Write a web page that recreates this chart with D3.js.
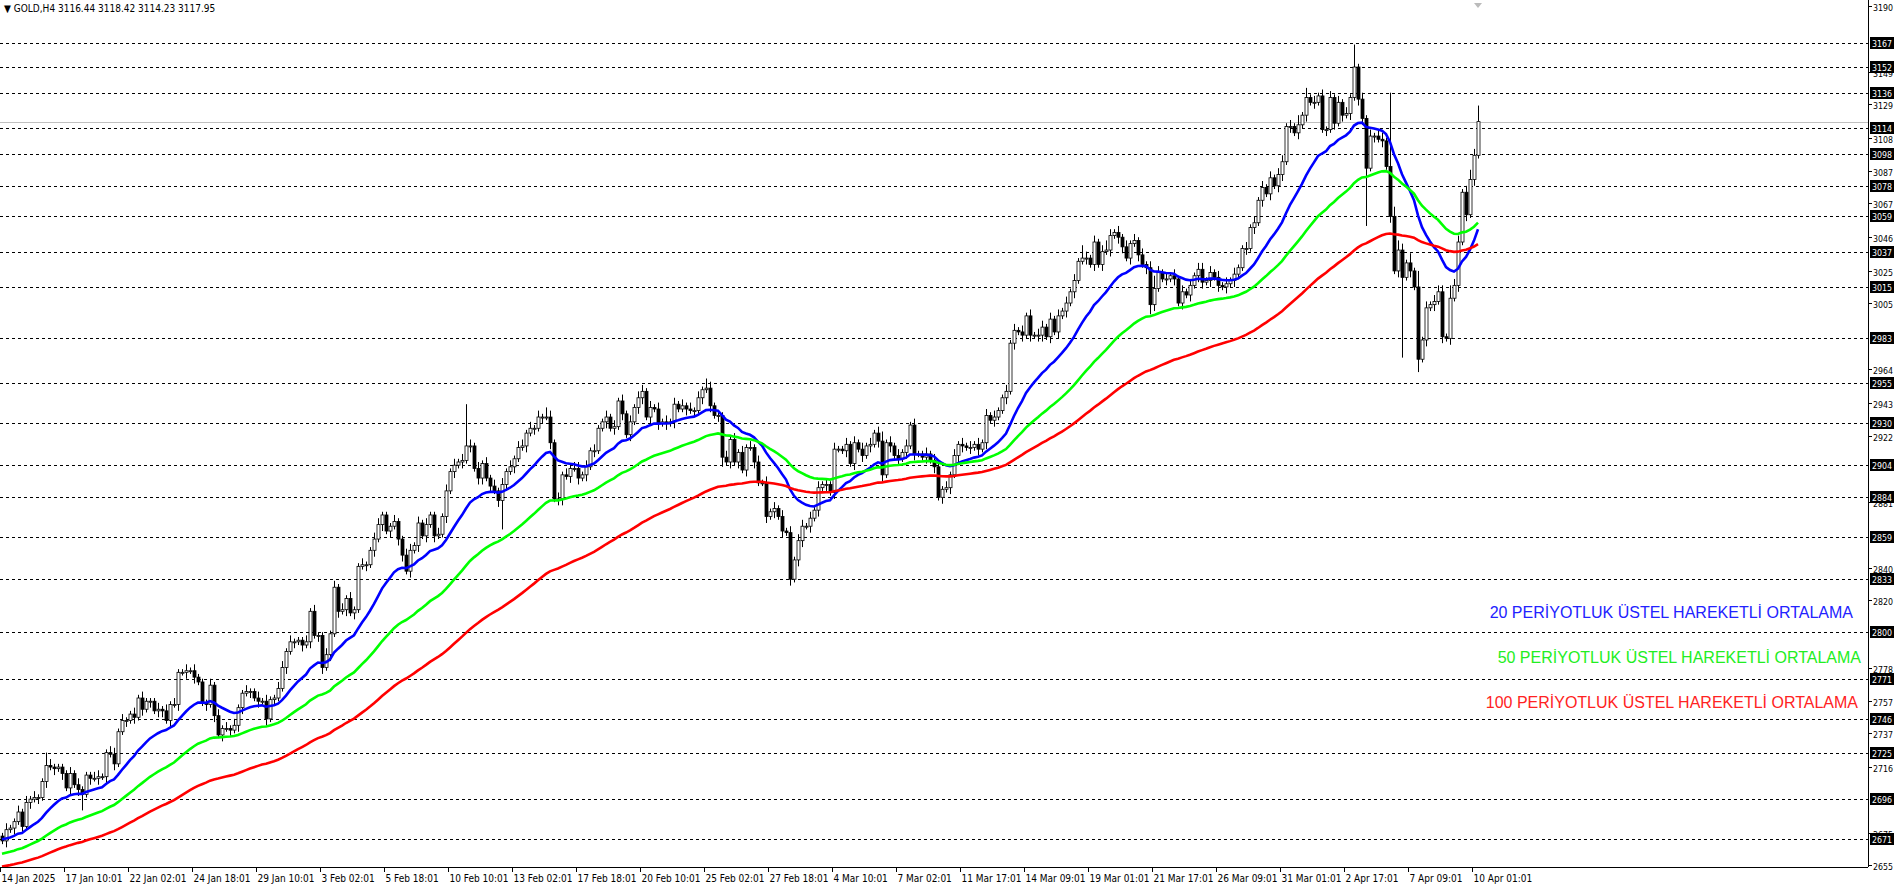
<!DOCTYPE html>
<html><head><meta charset="utf-8">
<script src="https://cdn.jsdelivr.net/npm/d3@7"></script>
<style>body{margin:0;background:#fff}svg{display:block}</style>
</head><body><svg id="ch" width="1894" height="885"></svg>
<script>
/* GOLD H4 — candles + EMA 20/50/100 */
var closes = [
  2670,2677,2678,2682,2688,2679,2694,2696,2697,2697, 2707,2717,2716,2715,2716,2712,2703,2712,2705,2702,
  2699,2711,2709,2709,2710,2710,2725,2724,2718,2738, 2745,2745,2749,2747,2759,2752,2757,2757,2751,2752,
  2751,2745,2755,2755,2775,2775,2776,2776,2772,2769, 2756,2755,2767,2748,2736,2740,2740,2739,2742,2753,
  2762,2763,2763,2759,2757,2757,2746,2758,2759,2765, 2778,2788,2794,2794,2795,2792,2794,2813,2798,2798,
  2778,2786,2799,2828,2813,2814,2821,2812,2814,2841, 2842,2842,2851,2858,2867,2873,2863,2866,2869,2858,
  2848,2838,2851,2854,2868,2860,2867,2873,2860,2861, 2872,2888,2900,2904,2906,2907,2916,2916,2902,2896,
  2905,2896,2891,2888,2882,2892,2900,2903,2908,2915, 2916,2924,2927,2927,2934,2934,2934,2918,2883,2883,
  2898,2897,2902,2902,2896,2898,2903,2913,2913,2927, 2931,2934,2927,2928,2944,2936,2923,2931,2940,2946,
  2950,2934,2940,2939,2930,2931,2930,2931,2942,2939, 2941,2939,2938,2938,2946,2951,2952,2941,2935,2935,
  2909,2906,2920,2906,2912,2901,2915,2915,2906,2893, 2893,2872,2875,2877,2872,2863,2862,2833,2845,2857,
  2866,2866,2871,2876,2890,2892,2892,2887,2914,2914, 2913,2917,2905,2918,2914,2910,2916,2917,2924,2919,
  2898,2918,2916,2910,2908,2912,2916,2929,2911,2911, 2909,2911,2907,2903,2884,2889,2890,2898,2910,2917,
  2916,2915,2915,2917,2914,2918,2935,2932,2934,2938, 2946,2950,2980,2988,2987,2985,2997,2985,2985,2985,
  2990,2984,2995,2987,2997,3000,3005,3012,3019,3031, 3033,3033,3029,3043,3029,3037,3038,3047,3049,3046,
  3040,3033,3042,3044,3035,3029,3027,3004,3014,3024, 3020,3020,3022,3020,3005,3012,3010,3016,3022,3026,
  3018,3019,3024,3021,3016,3015,3017,3019,3023,3027, 3039,3039,3052,3055,3069,3077,3073,3083,3078,3085,
  3093,3115,3115,3111,3116,3122,3133,3130,3130,3134, 3113,3113,3133,3117,3130,3122,3123,3133,3152,3132,
  3120,3089,3109,3109,3107,3106,3090,3059,3025,3038, 3021,3030,3025,3015,2970,2982,3002,3004,3006,3012,
  2984,2983,3008,3016,3043,3074,3060,3082,3097,3118
];
var firstOpen = 2673;
// wick lengths, base-36 digit = 2 USD
var wickUp = ['1211212121','1421111212','1112211221','2112121112','1212112121','1121212121','1211212112','2121112121',
  '1212121211','2112211121','1221212112','121212d212','1212121212','2121213212','1212212121','1212121212','2121212121',
  '2121213211','1212121212','1212121212','2121212121','1212121212','3121212121','1212112121','2121212121','1212121212',
  '2121212121','4212123212','1212121242','1212121212','2121212121','1212121212','2121313121','2121212171','2121221n33',
  '2131512122','2142212325'].join('');
var wickDn = ['1212121212','1212121212','5121212121','1212121212','2121212121','1212121212','2121212121','1212121212',
  '2121212121','1212121212','2121212121','1212121212','2121292121','1212121212','2121212121','1212121212','2121212121',
  '1212121212','3121212121','1212121212','2121212121','1212121212','2121212121','1212121212','2121212121','1212121212',
  '2121212121','1212121212','2121212321','1212121212','2121212121','1212121212','2121212121','1212121212','2i12121212',
  'p121412121','2121212121'].join('');
var emaPeriods = [20, 50, 100];
var emaSeeds = [2671, 2662, 2654];
var emaColors = ['#0000ff', '#00ff00', '#ff0000'];
var levels = [3167,3152,3136,3114,3098,3078,3059,3037,3015,2983,2955,2930,2904,2884,2859,2833,2800,2771,2746,2725,2696,2671];
var yTicks = [3190,3149,3129,3108,3087,3067,3046,3025,3005,2964,2943,2922,2881,2840,2820,2778,2757,2737,2716,2675,2655];
var xLabels = ['14 Jan 2025','17 Jan 10:01','22 Jan 02:01','24 Jan 18:01','29 Jan 10:01','3 Feb 02:01','5 Feb 18:01',
  '10 Feb 10:01','13 Feb 02:01','17 Feb 18:01','20 Feb 10:01','25 Feb 02:01','27 Feb 18:01','4 Mar 10:01','7 Mar 02:01',
  '11 Mar 17:01','14 Mar 09:01','19 Mar 01:01','21 Mar 17:01','26 Mar 09:01','31 Mar 01:01','2 Apr 17:01','7 Apr 09:01','10 Apr 01:01'];
var notes = ['20 PERİYOTLUK ÜSTEL HAREKETLİ ORTALAMA','50 PERİYOTLUK ÜSTEL HAREKETLİ ORTALAMA','100 PERİYOTLUK ÜSTEL HAREKETLİ ORTALAMA'];
var noteColors = ['#2222ff', '#22ee22', '#ff2222'];
var lastPrice = 3117.95;

var W = 1868, H = 867;
var svg = d3.select('#ch');
var y = d3.scaleLinear().domain([2655, 3190]).range([865, 6]);
var x = d3.scaleLinear().domain([0, 1]).range([2, 6]);

var bars = closes.map(function (c, i) {
  var o = i === 0 ? firstOpen : closes[i - 1];
  return { i: i, o: o, c: c,
    h: Math.max(o, c) + parseInt(wickUp[i] || '1', 36) * 2,
    l: Math.min(o, c) - parseInt(wickDn[i] || '1', 36) * 2 };
});

// levels
svg.append('g').selectAll('line').data(levels).enter().append('line')
  .attr('x1', 0).attr('x2', W).attr('y1', function (d) { return Math.round(y(d)) + 0.5; }).attr('y2', function (d) { return Math.round(y(d)) + 0.5; })
  .attr('stroke', '#000').attr('stroke-dasharray', '3,3');
svg.append('line').attr('x1', 0).attr('x2', W).attr('y1', Math.round(y(lastPrice)) + 0.5).attr('y2', Math.round(y(lastPrice)) + 0.5).attr('stroke', '#c0c0c0');

// candles
var gc = svg.append('g');
gc.selectAll('line').data(bars).enter().append('line')
  .attr('x1', function (d) { return Math.round(x(d.i)) + 0.5; }).attr('x2', function (d) { return Math.round(x(d.i)) + 0.5; })
  .attr('y1', function (d) { return y(d.h); }).attr('y2', function (d) { return y(d.l); }).attr('stroke', '#000');
gc.selectAll('rect').data(bars).enter().append('rect')
  .attr('x', function (d) { return Math.round(x(d.i)) - 1; }).attr('width', 3)
  .attr('y', function (d) { return y(Math.max(d.o, d.c)); })
  .attr('height', function (d) { return Math.max(1, Math.abs(y(d.o) - y(d.c))); })
  .attr('fill', function (d) { return d.c >= d.o ? '#fff' : '#000'; }).attr('stroke', '#000').attr('stroke-width', 0.8);

// EMAs
emaPeriods.forEach(function (p, k) {
  var a = 2 / (p + 1), e = emaSeeds[k], pts = [];
  closes.forEach(function (c, i) { e = i === 0 ? e : e + a * (c - e); pts.push([i, e]); });
  svg.append('path').datum(pts).attr('fill', 'none').attr('stroke', emaColors[k]).attr('stroke-width', 2.6)
    .attr('d', d3.line().x(function (d) { return x(d[0]); }).y(function (d) { return y(d[1]); }));
});

// frame
svg.append('line').attr('x1', W + 0.5).attr('x2', W + 0.5).attr('y1', 0).attr('y2', H).attr('stroke', '#000');
svg.append('line').attr('x1', 0).attr('x2', W).attr('y1', H + 0.5).attr('y2', H + 0.5).attr('stroke', '#000');

// right axis
var fnt = 'DejaVu Sans Condensed, Liberation Sans Narrow, sans-serif';
var ga = svg.append('g').attr('font-family', fnt).attr('font-size', 9.5);
yTicks.forEach(function (t) {
  var yy = Math.round(y(t)) + 0.5;
  ga.append('line').attr('x1', W).attr('x2', W + 4).attr('y1', yy).attr('y2', yy).attr('stroke', '#000');
  ga.append('text').attr('x', W + 5).attr('y', yy + 4).attr('textLength', 20).attr('lengthAdjust', 'spacingAndGlyphs').text(t);
});
levels.forEach(function (t) {
  var yy = Math.round(y(t));
  ga.append('rect').attr('x', W + 2).attr('y', yy - 6).attr('width', 24).attr('height', 12).attr('fill', '#000');
  ga.append('text').attr('x', W + 4).attr('y', yy + 4).attr('fill', '#fff').attr('textLength', 20).attr('lengthAdjust', 'spacingAndGlyphs').text(t);
});

// bottom axis
var gx = svg.append('g').attr('font-family', fnt).attr('font-size', 10);
xLabels.forEach(function (t, k) {
  var xx = Math.round(x(k * 16)) - 1.5;
  gx.append('line').attr('x1', xx).attr('x2', xx).attr('y1', H).attr('y2', H + 5).attr('stroke', '#000');
  gx.append('text').attr('x', xx + 1).attr('y', H + 15).text(t);
});

// header
svg.append('text').attr('x', 4).attr('y', 12).attr('font-family', fnt).attr('font-size', 10)
  .text('\u25BC GOLD,H4  3116.44 3118.42 3114.23 3117.95');
svg.append('path').attr('d', 'M1474,3 L1482,3 L1478,8 Z').attr('fill', '#bbb');

// notes
notes.forEach(function (t, k) {
  svg.append('text').attr('x', [1853, 1861, 1858][k]).attr('y', [618, 663, 708][k]).attr('text-anchor', 'end')
    .attr('font-family', 'Liberation Sans, Arial, sans-serif').attr('font-size', 16).attr('fill', noteColors[k]).text(t);
});
</script></body></html>
